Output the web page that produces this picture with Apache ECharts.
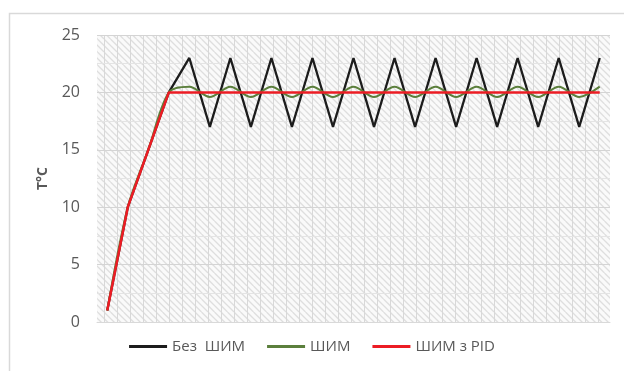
<!DOCTYPE html>
<html>
<head>
<meta charset="utf-8">
<script src="https://cdn.jsdelivr.net/npm/echarts@6/dist/echarts.min.js"></script>
<style>html,body{margin:0;padding:0;background:#fff}#c{width:624px;height:371px}</style>
</head>
<body>
<div id="c"></div>
<script>
var categories = ['1','2','3','4','5','6','7','8','9','10','11','12','13','14','15','16','17','18','19','20','21','22','23','24','25'];
var noPwm = [1,10,15,20,23,17,23,17,23,17,23,17,23,17,23,17,23,17,23,17,23,17,23,17,23];
var pwm   = [1,10,15,20,20.5,19.6,20.5,19.6,20.5,19.6,20.5,19.6,20.5,19.6,20.5,19.6,20.5,19.6,20.5,19.6,20.5,19.6,20.5,19.6,20.5];
var pid   = [1,10,15,20,20,20,20,20,20,20,20,20,20,20,20,20,20,20,20,20,20,20,20,20,20];
var seriesNames = ['Без  ШИМ','ШИМ','ШИМ з PID'];
var yTitle = 'T°C';

function makePattern(){
  var s = 13;
  var c = document.createElement('canvas');
  c.width = s; c.height = s;
  var g = c.getContext('2d');
  g.fillStyle = '#fafafa'; g.fillRect(0,0,s,s);
  g.strokeStyle = '#dedede'; g.lineWidth = 1.3;
  for (var k = -2*s; k <= 2*s; k += s/2) {
    g.beginPath(); g.moveTo(k, 0); g.lineTo(k + s, s); g.stroke();
  }
  g.strokeStyle = '#d8d8d8'; g.lineWidth = 1;
  g.beginPath(); g.moveTo(0.5,0); g.lineTo(0.5,s); g.stroke();
  return c;
}

var chart = echarts.init(document.getElementById('c'), null, {renderer:'canvas'});
var font = '"Open Sans", "Noto Sans", sans-serif';
chart.setOption({
  animation: false,
  backgroundColor: '#fff',
  graphic: [{
    type: 'rect', left: 7, top: 11, silent: true, z: -10,
    shape: {x: 0, y: 0, width: 700, height: 500},
    style: {fill: 'none', stroke: '#d9d9d9', lineWidth: 1.5}
  }],
  grid: {
    left: 97, right: 14, top: 35, bottom: 49,
    show: true, borderWidth: 0,
    backgroundColor: {image: makePattern(), repeat: 'repeat'}
  },
  legend: {
    bottom: 12, left: 'center',
    icon: 'rect', itemWidth: 38, itemHeight: 3, itemGap: 22,
    textStyle: {color: '#595959', fontSize: 15, fontFamily: font},
    data: seriesNames
  },
  xAxis: {
    type: 'category', data: categories, boundaryGap: true,
    axisLine: {show: true, lineStyle: {color: '#d9d9d9'}},
    axisTick: {show: false}, axisLabel: {show: false},
    splitLine: {show: false}
  },
  yAxis: {
    type: 'value', min: 0, max: 25, interval: 5,
    name: yTitle, nameLocation: 'middle', nameGap: 47, nameRotate: 90,
    nameTextStyle: {color: '#595959', fontSize: 14, fontWeight: 'bold', fontFamily: font},
    axisLine: {show: false}, axisTick: {show: false},
    axisLabel: {color: '#595959', fontSize: 16, margin: 17, fontFamily: font},
    splitLine: {show: true, lineStyle: {color: '#d4d4d4', width: 1}},
    minorTick: {show: false, splitNumber: 2},
    minorSplitLine: {show: true, lineStyle: {color: '#e4e4e4', width: 1}}
  },
  series: [
    {name: seriesNames[0], type: 'line', data: noPwm, showSymbol: false, symbol: 'none',
     lineStyle: {color: '#1c1c1c', width: 2.3}, itemStyle: {color: '#1c1c1c'}},
    {name: seriesNames[1], type: 'line', data: pwm, showSymbol: false, symbol: 'none', smooth: 0.3,
     lineStyle: {color: '#5b7f3c', width: 2}, itemStyle: {color: '#5b7f3c'}},
    {name: seriesNames[2], type: 'line', data: pid, showSymbol: false, symbol: 'none',
     lineStyle: {color: '#ec1c24', width: 2.5}, itemStyle: {color: '#ec1c24'}}
  ]
});
</script>
</body>
</html>
